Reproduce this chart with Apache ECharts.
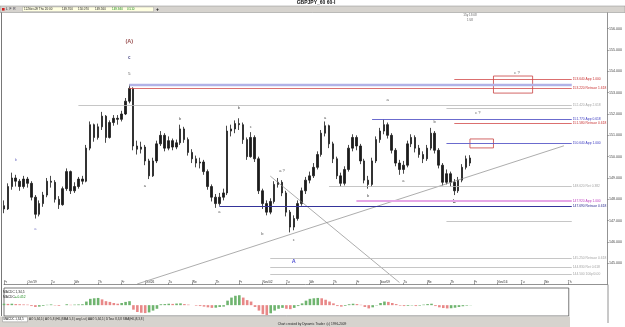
<!DOCTYPE html>
<html>
<head>
<meta charset="utf-8">
<script src="https://cdn.jsdelivr.net/npm/echarts@6/dist/echarts.min.js"></script>
<style>
  html, body { margin: 0; padding: 0; background: #fff; }
  #chart { width: 625px; height: 327px; }
</style>
</head>
<body>
<div id="chart"></div>
<script>
// trading days on the time axis (Mondays carry the month)
const dayLabels = ["Fr", "Oct/19", "Tu", "We", "Th", "Fr", "Oct/26", "Tu", "We", "Th", "Fr",
  "Nov/02", "Tu", "We", "Th", "Fr", "Nov/09", "Tu", "We", "Th", "Fr", "Nov/16", "Tu", "We", "Th", "Fr"];
const hourSlots = ["00", "04", "08", "12", "16", "20"];

// 4-hour bars: [open, close, low, high]
const bars = [
  [147.70, 147.55, 147.35, 147.95], [147.55, 148.60, 147.50, 148.75], [148.60, 149.00, 148.45, 149.25],
  [149.00, 148.85, 148.60, 149.15], [148.85, 148.60, 148.40, 148.95], [148.60, 148.95, 148.50, 149.10],
  [148.95, 148.75, 148.55, 149.05], [148.75, 148.10, 147.95, 148.85], [148.10, 147.30, 147.10, 148.20],
  [147.30, 147.80, 147.20, 147.95], [147.80, 148.20, 147.65, 148.35], [148.20, 148.85, 148.10, 149.00],
  [148.85, 148.80, 148.55, 149.10], [148.80, 148.00, 147.85, 148.90], [148.00, 147.75, 147.55, 148.15],
  [147.75, 148.50, 147.70, 148.60], [148.50, 149.30, 148.40, 149.45], [149.30, 148.40, 148.25, 149.35],
  [148.40, 148.60, 148.30, 148.80], [148.60, 148.95, 148.50, 149.05], [148.95, 148.85, 148.70, 149.10],
  [148.85, 150.40, 148.80, 150.55], [150.40, 151.50, 150.30, 151.65], [151.50, 150.90, 150.70, 151.55],
  [150.90, 151.40, 150.80, 151.55], [151.40, 151.90, 151.25, 152.10], [151.90, 150.90, 150.65, 151.95],
  [150.90, 151.60, 150.85, 151.70], [151.60, 151.80, 151.45, 151.95], [151.80, 151.75, 151.50, 151.95],
  [151.75, 152.00, 151.65, 152.15], [152.00, 152.60, 151.95, 152.75], [152.60, 153.20, 152.50, 153.38],
  [153.20, 150.50, 150.30, 153.25], [150.50, 150.35, 150.10, 150.75], [150.35, 150.45, 150.15, 150.70],
  [150.45, 149.80, 149.60, 150.55], [149.80, 149.10, 148.95, 149.90], [149.10, 149.80, 149.05, 149.95],
  [149.80, 150.60, 149.70, 150.75], [150.60, 151.00, 150.50, 151.20], [151.00, 150.40, 150.25, 151.10],
  [150.40, 150.75, 150.30, 150.95], [150.75, 150.45, 150.30, 150.85], [150.45, 150.65, 150.35, 150.80],
  [150.65, 151.30, 150.55, 151.50], [151.30, 150.80, 150.65, 151.40], [150.80, 150.20, 150.05, 150.90],
  [150.20, 149.90, 149.70, 150.35], [149.90, 149.70, 149.50, 150.05], [149.70, 149.75, 149.45, 149.95],
  [149.75, 149.30, 149.15, 149.85], [149.30, 148.60, 148.45, 149.40], [148.60, 148.10, 147.90, 148.70],
  [148.10, 147.80, 147.60, 148.25], [147.80, 148.10, 147.70, 148.30], [148.10, 148.30, 147.95, 148.50],
  [148.30, 151.20, 148.20, 151.45], [151.20, 151.30, 150.95, 151.50], [151.30, 151.55, 151.10, 151.70],
  [151.55, 151.50, 151.25, 151.80], [151.50, 150.80, 150.60, 151.60], [150.80, 150.00, 149.85, 150.90],
  [150.00, 150.90, 149.95, 151.15], [150.90, 149.90, 149.75, 151.00], [149.90, 148.40, 148.25, 150.00],
  [148.40, 147.80, 147.55, 148.50], [147.80, 147.40, 147.25, 147.95], [147.40, 147.90, 147.30, 148.05],
  [147.90, 148.70, 147.80, 148.85], [148.70, 148.80, 148.55, 149.00], [148.80, 148.30, 148.15, 148.90],
  [148.30, 147.40, 147.20, 148.40], [147.40, 146.70, 146.45, 147.50], [146.70, 147.10, 146.55, 147.25],
  [147.10, 147.80, 147.00, 147.95], [147.80, 148.40, 147.70, 148.55], [148.40, 148.90, 148.25, 149.05],
  [148.90, 149.10, 148.75, 149.30], [149.10, 149.50, 149.00, 149.70], [149.50, 150.10, 149.40, 150.25],
  [150.10, 151.10, 150.00, 151.25], [151.10, 151.45, 150.95, 151.65], [151.45, 150.60, 150.40, 151.50],
  [150.60, 149.90, 149.70, 150.70], [149.90, 149.10, 148.95, 150.00], [149.10, 148.75, 148.60, 149.25],
  [148.75, 149.40, 148.65, 149.55], [149.40, 150.40, 149.30, 150.55], [150.40, 150.90, 150.25, 151.05],
  [150.90, 150.50, 150.30, 151.00], [150.50, 149.80, 149.65, 150.60], [149.80, 148.90, 148.75, 149.90],
  [148.90, 148.70, 148.50, 149.10], [148.70, 149.80, 148.60, 149.95], [149.80, 150.80, 149.70, 150.95],
  [150.80, 151.20, 150.65, 151.35], [151.20, 151.50, 151.05, 151.75], [151.50, 151.00, 150.85, 151.60],
  [151.00, 150.30, 150.15, 151.10], [150.30, 149.70, 149.55, 150.40], [149.70, 149.40, 149.15, 149.85],
  [149.40, 149.60, 149.20, 149.80], [149.60, 150.60, 149.50, 150.75], [150.60, 150.90, 150.45, 151.05],
  [150.90, 150.40, 150.20, 151.00], [150.40, 150.10, 149.95, 150.55], [150.10, 149.90, 149.70, 150.25],
  [149.90, 150.40, 149.80, 150.55], [150.40, 151.10, 150.30, 151.35], [151.10, 150.30, 150.15, 151.20],
  [150.30, 149.60, 149.45, 150.40], [149.60, 148.80, 148.65, 149.70], [148.80, 149.20, 148.70, 149.40],
  [149.20, 148.80, 148.60, 149.30], [148.80, 148.40, 148.20, 148.95], [148.40, 148.90, 148.30, 149.05],
  [148.90, 149.50, 148.80, 149.65], [149.50, 149.90, 149.40, 150.05], [149.70, 149.94, 149.56, 150.07]
];
const lastClose = 149.94;

// MACDC histogram, one value per bar
const macdHist = [
  0.08, 0.07, 0.08, 0.06, 0.05, 0.04, 0.03, -0.05, -0.10, -0.08, -0.04,
  0.02, 0.04, -0.02, -0.04, 0.00, 0.05, 0.02, 0.03, 0.04, 0.05,
  0.20, 0.35, 0.38, 0.40, 0.32, 0.22, 0.18, 0.12, 0.08, 0.12, 0.18, 0.22,
  -0.25, -0.38, -0.42, -0.44, -0.40, -0.30, -0.20,
  0.05, 0.06, 0.08, 0.07, 0.09, 0.10, 0.06, 0.03, 0.00, -0.03, -0.05,
  -0.08, -0.12, -0.15, -0.14, -0.10, -0.08,
  0.25, 0.42, 0.52, 0.55, 0.42, 0.28, 0.20,
  -0.10, -0.30, -0.50, -0.55, -0.45, -0.30, -0.20, -0.15, -0.20, -0.22, -0.15, -0.05,
  0.10, 0.25, 0.35, 0.38, 0.40, 0.38, 0.30, 0.20, 0.10,
  -0.05, -0.08, -0.04, 0.05, 0.08, 0.06, 0.02, -0.10, -0.18, -0.12, -0.02,
  0.12, 0.20, 0.18, 0.12, 0.06, -0.03, -0.05, -0.04, -0.02, -0.05, -0.03,
  0.03, 0.06, 0.08, -0.05, -0.12, -0.16, -0.18, -0.17, -0.14, -0.10, -0.06, -0.03, -0.01
];

// projected price levels: price, first bar, kind, tag
const levelPrice = [153.64, 153.36, 153.22, 152.42, 152.28, 151.77, 151.58, 150.64, 148.62, 147.92, 147.69, 146.98, 145.25, 144.83, 144.50];
const levelFrom  = [115, 32, 32, 19, 113, 94, 115, 113, 83, 90, 55, 113, 68, 68, 68];
const levelKind  = ["ext", "top", "ext", "alt", "alt", "app", "ext", "app", "alt", "zone", "ret", "alt", "alt", "alt", "alt"];
const levelTag   = ["App 1.000", "", "Retrace 1.618", "App 2.618", "", "App 0.618", "Retrace 0.618", "App 1.000",
  "Ret 0.382", "App 1.000", "Retrace 0.618", "", "Retrace 0.618", "Ret 0.618", "100p/0.00"];
const levelEnd = 145;

// target boxes for wave c
const boxFrom = [125, 119], boxTo = [135, 125], boxTop = [153.78, 150.83], boxBottom = [152.98, 150.41];

// trend lines [bar, price]
const trendUp = [[34, 144.03], [143, 150.51]];
const trendDown = [[68, 149.09], [101, 144.10]];

// wave labels
const waveText   = ["b", "a", "(A)", "c", "5", "a", "b", "a", "b", "c", "a ?", "b", "c", "A", "a", "b", "a", "a", "b", "b", "c ?", "c ?", "15y 13:08", "1:58"];
const waveIdx    = [3, 8, 32, 32, 32, 36, 45, 55, 60, 63, 71, 66, 74, 74, 82, 93, 98, 102, 110, 115, 121, 131, 119, 119];
const wavePrice  = [149.84, 146.61, 155.42, 154.63, 153.88, 148.62, 151.77, 147.41, 152.28, 151.39, 149.33, 146.37, 146.09, 145.11,
  151.81, 148.16, 152.66, 148.86, 151.63, 147.87, 152.05, 153.92, 156.62, 156.38];
const waveDegree = ["minute", "minute", "primary", "navy", "minor", "minor", "minor", "minor", "minor", "minor", "minor", "minor", "minor",
  "intermediate", "minor", "minor", "minor", "minor", "minor", "strong", "minor", "minor", "note", "note"];

const categories = [];
dayLabels.forEach(d => hourSlots.forEach(h => categories.push(d + " " + h)));
const mainCats = categories.slice(0, 155);
const macdCats = categories.slice(0, 145);

const FONT = '"Liberation Sans", "DejaVu Sans", sans-serif';

const lineStyles = {
  ext: { color: "#d24a4a", width: 0.8, text: "#c83030" },
  top: { color: "#b2b2e6", width: 2.4, text: "#8888cc" },
  alt: { color: "#b8b8b8", width: 0.8, text: "#a4a4a4" },
  app: { color: "#5a5ac8", width: 0.9, text: "#3a3ac0" },
  zone: { color: "#e6a6e6", width: 2, text: "#c040c0" },
  ret: { color: "#34349a", width: 1.2, text: "#2a2a90" }
};
const degreeStyles = {
  primary: { color: "#7a1c1c", fontSize: 5.5, fontWeight: "bold" },
  intermediate: { color: "#2626c8", fontSize: 5.5, fontWeight: "bold" },
  minute: { color: "#5a5ab8", fontSize: 4, fontWeight: "normal" },
  navy: { color: "#24246e", fontSize: 4.5, fontWeight: "bold" },
  minor: { color: "#222", fontSize: 4, fontWeight: "normal" },
  strong: { color: "#000", fontSize: 4.6, fontWeight: "bold" },
  note: { color: "#333", fontSize: 3, fontWeight: "normal" }
};

const levelLines = levelPrice.map((p, i) => {
  const s = lineStyles[levelKind[i]];
  return [
    {
      coord: [levelFrom[i], p],
      lineStyle: { color: s.color, width: s.width, type: "solid" },
      label: {
        show: levelTag[i] !== "",
        position: "end",
        distance: 1,
        formatter: p.toFixed(3) + " " + levelTag[i],
        color: s.text,
        fontSize: 3.3,
        fontFamily: FONT
      }
    },
    { coord: [levelEnd, p] }
  ];
});

const boxes = boxFrom.map((f, i) => [
  { coord: [f, boxTop[i]] },
  { coord: [boxTo[i], boxBottom[i]] }
]);

const waveData = waveText.map((t, i) => {
  const s = degreeStyles[waveDegree[i]];
  return {
    value: [waveIdx[i], wavePrice[i]],
    label: { show: true, formatter: t, color: s.color, fontSize: s.fontSize, fontWeight: s.fontWeight, fontFamily: FONT }
  };
});

const dayTick = (idx) => idx % 6 === 0 && idx <= 144;

const chart = echarts.init(document.getElementById("chart"), null, { renderer: "canvas" });

const txt = (x, y, text, size, color, extra) => Object.assign({
  type: "text", x: x, y: y, z: 101,
  style: Object.assign({ text: text, fontSize: size, fontFamily: FONT, fill: color, verticalAlign: "middle" }, extra || {})
});

chart.setOption({
  animation: false,
  backgroundColor: "#fff",
  textStyle: { fontFamily: FONT },
  grid: [
    { left: 4, right: 17, top: 7.333, height: 277.333 },
    { left: 4, right: 56.22, top: 288, height: 28, show: true, borderColor: "#555", borderWidth: 0.8, backgroundColor: "#fff" }
  ],
  xAxis: [
    {
      type: "category", gridIndex: 0, data: mainCats, boundaryGap: false,
      axisLine: { show: true, lineStyle: { color: "#777", width: 0.8 } },
      axisTick: { show: true, inside: true, length: 2, interval: dayTick, lineStyle: { color: "#555", width: 0.6 } },
      axisLabel: {
        inside: true, interval: dayTick, margin: 1, align: "left", fontSize: 3.2, color: "#333",
        formatter: (v) => v.split(" ")[0]
      },
      splitLine: { show: false }
    },
    { type: "category", gridIndex: 1, data: macdCats, boundaryGap: false, show: false }
  ],
  yAxis: [
    {
      type: "value", gridIndex: 0, position: "right", min: 144, max: 157, interval: 1,
      axisLine: { show: true, lineStyle: { color: "#777", width: 0.8 } },
      axisTick: { show: true, length: 2, lineStyle: { color: "#777", width: 0.6 } },
      axisLabel: { margin: 2, fontSize: 3.6, color: "#444", showMinLabel: false, showMaxLabel: false, formatter: (v) => v.toFixed(3) },
      splitLine: { show: false }
    },
    { type: "value", gridIndex: 1, min: -0.6, max: 0.95, show: false }
  ],
  series: [
    {
      type: "candlestick", name: "GBPJPY", xAxisIndex: 0, yAxisIndex: 0,
      data: bars, barWidth: 2,
      itemStyle: { color: "#1c1c1c", color0: "#1c1c1c", borderColor: "#1c1c1c", borderColor0: "#1c1c1c", borderWidth: 0.8 },
      markLine: {
        silent: true, symbol: ["none", "none"], animation: false,
        lineStyle: { opacity: 0 },
        label: {
          position: "end", distance: 2, formatter: lastClose.toFixed(3), fontSize: 3.6, color: "#000",
          backgroundColor: "#ffff00", padding: [1, 1], fontFamily: FONT
        },
        data: [{ yAxis: lastClose }]
      }
    },
    {
      type: "line", name: "trend", xAxisIndex: 0, yAxisIndex: 0,
      data: trendUp, symbol: "none", lineStyle: { color: "#8a8a8a", width: 0.7 }, clip: false,
      markLine: { silent: true, symbol: ["none", "none"], animation: false, data: levelLines },
      markArea: {
        silent: true,
        itemStyle: { color: "rgba(0,0,0,0)", borderColor: "#c84040", borderWidth: 0.8 },
        data: boxes
      }
    },
    {
      type: "line", name: "trend2", xAxisIndex: 0, yAxisIndex: 0,
      data: trendDown, symbol: "none", lineStyle: { color: "#8a8a8a", width: 0.7 }, clip: false
    },
    {
      type: "scatter", name: "waves", xAxisIndex: 0, yAxisIndex: 0,
      data: waveData, symbolSize: 1, itemStyle: { color: "rgba(0,0,0,0)" },
      label: { show: true, position: "inside" }
    },
    {
      type: "bar", name: "MACDC", xAxisIndex: 1, yAxisIndex: 1,
      data: macdHist, barWidth: 2.6,
      itemStyle: {
        color: (p) => {
          const i = p.dataIndex;
          return i > 0 && macdHist[i] < macdHist[i - 1] ? "#e88888" : "#6fb46f";
        }
      }
    }
  ],
  graphic: [
    // title bar
    { type: "rect", z: 100, shape: { x: 0, y: 0, width: 625, height: 6 }, style: { fill: "#fff" } },
    txt(316, 3, "GBPJPY_60 60-I", 5, "#111", { fontWeight: "bold", align: "center" }),
    { type: "rect", z: 100, shape: { x: 0, y: 6, width: 625, height: 6.5 }, style: { fill: "#d6d3ce", stroke: "#8a8a8a", lineWidth: 0.5 } },
    { type: "rect", z: 101, shape: { x: 2, y: 8, width: 2.6, height: 2.6 }, style: { fill: "#d02020" } },
    txt(6, 9.4, "L  F  R", 3.2, "#223"),
    { type: "rect", z: 101, shape: { x: 22.5, y: 7, width: 131, height: 4.6 }, style: { fill: "#ffffe1", stroke: "#999", lineWidth: 0.4 } },
    txt(24, 9.4, "12-Nov-09 Thu 20:00", 3, "#222"),
    txt(62, 9.4, "149.700", 3, "#222"),
    txt(78, 9.4, "150.070", 3, "#222"),
    txt(95, 9.4, "149.560", 3, "#222"),
    txt(112, 9.4, "149.940", 3, "#1a8a1a"),
    txt(127, 9.4, "0.510", 3, "#1a8a1a"),
    txt(156, 9.4, "+", 5, "#111", { fontWeight: "bold" }),
    // frame lines
    { type: "line", z: 100, shape: { x1: 1.5, y1: 12.5, x2: 1.5, y2: 316 }, style: { stroke: "#555", lineWidth: 0.8 } },
    { type: "line", z: 100, shape: { x1: 608, y1: 284.6, x2: 608, y2: 323 }, style: { stroke: "#777", lineWidth: 0.8 } },
    // MACD labels
    txt(3, 292.5, "MACDC 1,34,5", 3.2, "#222"),
    txt(3, 297, "MACDC ", 3.2, "#222"),
    txt(14.5, 297, "=-0.452", 3.2, "#1a8a1a"),
    // tab strip and footer
    { type: "rect", z: 100, shape: { x: 0, y: 316.6, width: 570, height: 10.4 }, style: { fill: "#d6d3ce" } },
    { type: "rect", z: 101, shape: { x: 2.5, y: 317, width: 25, height: 4.8 }, style: { fill: "#fff", stroke: "#777", lineWidth: 0.4 } },
    txt(3.5, 319.4, "MACDC 1,34,5", 3, "#111"),
    txt(29, 319.4, "AO 5,34,5 | AO 5,8 (H/L)SMA 5,3 | ang Lst | AAO 5,34,5 | DTosc 8,3,8 SMA(H/L)8,3,8 |", 3, "#222"),
    txt(312, 324.6, "Chart created by Dynamic Trader  (c) 1996-2009", 3.2, "#222", { align: "center" })
  ]
});
</script>
</body>
</html>
